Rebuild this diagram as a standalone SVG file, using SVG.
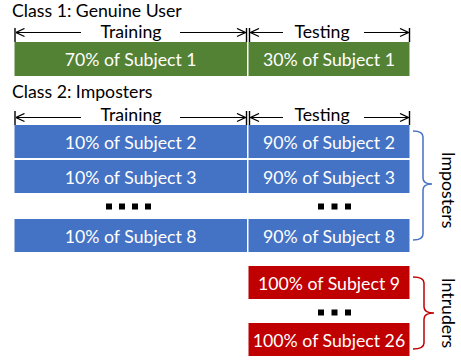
<svg xmlns="http://www.w3.org/2000/svg" width="461" height="360" viewBox="0 0 461 360">
<defs>
<marker id="ah" viewBox="0 0 10 10" refX="9.5" refY="5" markerWidth="10" markerHeight="10" markerUnits="userSpaceOnUse" orient="auto-start-reverse">
<path d="M1,1 L9.5,5 L1,9" fill="none" stroke="#000" stroke-width="1.3"/>
</marker>
<style>
text{font-family:Lato,"Liberation Sans",sans-serif;font-size:17.7px}
.t{fill:#fff;text-anchor:middle}
.k{fill:#000}
.m{fill:#000;text-anchor:middle}
.g{fill:#548235}
.b{fill:#4472C4}
.r{fill:#C00000}
.ar{stroke:#000;stroke-width:1.2;fill:none}
.tk{stroke:#000;stroke-width:1.4}
.br{fill:none;stroke-width:1.5}
</style>
</defs>
<g id="titles">
<text class="k" x="12" y="16.5">Class 1: Genuine User</text>
<text class="k" x="12" y="98">Class 2: Imposters</text>
</g>
<g id="connectors">
<g id="arrows1">
<line class="tk" x1="15" y1="28" x2="15" y2="42"/>
<line class="tk" x1="246.5" y1="28" x2="246.5" y2="42"/>
<line class="tk" x1="249.5" y1="28" x2="249.5" y2="42"/>
<line class="tk" x1="409.5" y1="28" x2="409.5" y2="42"/>
<line class="ar" x1="81" y1="32.5" x2="16" y2="32.5" marker-end="url(#ah)"/>
<line class="ar" x1="180" y1="32.5" x2="245.5" y2="32.5" marker-end="url(#ah)"/>
<line class="ar" x1="283" y1="32.5" x2="250.5" y2="32.5" marker-end="url(#ah)"/>
<line class="ar" x1="364" y1="32.5" x2="408.5" y2="32.5" marker-end="url(#ah)"/>
</g>
<g id="arrows2">
<line class="tk" x1="15" y1="111" x2="15" y2="125"/>
<line class="tk" x1="246.5" y1="111" x2="246.5" y2="125"/>
<line class="tk" x1="249.5" y1="111" x2="249.5" y2="125"/>
<line class="tk" x1="409.5" y1="111" x2="409.5" y2="125"/>
<line class="ar" x1="81" y1="117.5" x2="16" y2="117.5" marker-end="url(#ah)"/>
<line class="ar" x1="180" y1="117.5" x2="245.5" y2="117.5" marker-end="url(#ah)"/>
<line class="ar" x1="283" y1="117.5" x2="250.5" y2="117.5" marker-end="url(#ah)"/>
<line class="ar" x1="364" y1="117.5" x2="408.5" y2="117.5" marker-end="url(#ah)"/>
</g>
<path class="br" stroke="#4472C4" d="M413,131 Q423,131 423,137 L423,178 Q423,184 432,184 Q423,184 423,190 L423,234 Q423,240 413,240"/>
<path class="br" stroke="#C00000" d="M413,277 Q424,277 424,283 L424,307 Q424,313 434,313 Q424,313 424,319 L424,343 Q424,349 413,349"/>
</g>
<g id="labels">
<text class="m" x="131" y="38">Training</text>
<text class="m" x="322" y="38">Testing</text>
<text class="m" x="131" y="121">Training</text>
<text class="m" x="322" y="121">Testing</text>
<text class="k" transform="translate(442,190) rotate(90)" text-anchor="middle">Imposters</text>
<text class="k" transform="translate(442,313) rotate(90)" text-anchor="middle">Intruders</text>
</g>
<g id="n-g1"><rect class="g" x="14.5" y="42" width="232.5" height="34"/><text class="t" x="130.7" y="66">70% of Subject 1</text></g>
<g id="n-g2"><rect class="g" x="248.5" y="42" width="161" height="34"/><text class="t" x="329" y="66">30% of Subject 1</text></g>
<g id="n-b1"><rect class="b" x="14.5" y="125" width="232.5" height="33"/><text class="t" x="130.7" y="149">10% of Subject 2</text></g>
<g id="n-b2"><rect class="b" x="248.5" y="125" width="161" height="33"/><text class="t" x="329" y="149">90% of Subject 2</text></g>
<g id="n-b3"><rect class="b" x="14.5" y="160" width="232.5" height="33"/><text class="t" x="130.7" y="184">10% of Subject 3</text></g>
<g id="n-b4"><rect class="b" x="248.5" y="160" width="161" height="33"/><text class="t" x="329" y="184">90% of Subject 3</text></g>
<g id="n-b5"><rect class="b" x="14.5" y="219" width="232.5" height="33"/><text class="t" x="130.7" y="243">10% of Subject 8</text></g>
<g id="n-b6"><rect class="b" x="248.5" y="219" width="161" height="33"/><text class="t" x="329" y="243">90% of Subject 8</text></g>
<g id="n-r1"><rect class="r" x="248.5" y="266" width="161" height="33"/><text class="t" x="329" y="289.5">100% of Subject 9</text></g>
<g id="n-r2"><rect class="r" x="248.5" y="323" width="161" height="33"/><text class="t" x="329" y="346.5">100% of Subject 26</text></g>
<g id="dots">
<rect x="106" y="203.5" width="6" height="6"/>
<rect x="119" y="203.5" width="6" height="6"/>
<rect x="132" y="203.5" width="6" height="6"/>
<rect x="145" y="203.5" width="6" height="6"/>
<rect x="318" y="203.5" width="6" height="6"/>
<rect x="331.5" y="203.5" width="6" height="6"/>
<rect x="345" y="203.5" width="6" height="6"/>
<rect x="318" y="309.5" width="6" height="6"/>
<rect x="331.5" y="309.5" width="6" height="6"/>
<rect x="345" y="309.5" width="6" height="6"/>
</g>
</svg>
